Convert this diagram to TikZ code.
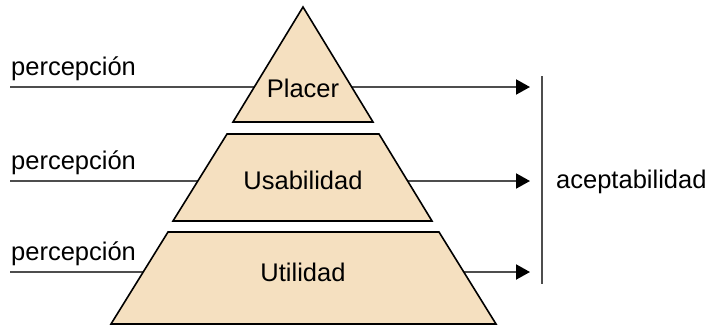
\documentclass[tikz,border=0pt]{standalone}
\usepackage{fontspec}
\setmainfont{Liberation Sans}
\usepackage{tikz}
\usetikzlibrary{arrows.meta,positioning}
\definecolor{tierfill}{HTML}{F5E0C0}
\definecolor{flowgray}{HTML}{4D4D4D}
\tikzset{
  tier/.style={draw=black,line width=1.6pt,fill=tierfill},
  flow/.style={draw=flowgray,line width=2pt,-{Triangle[length=14pt,width=15pt,color=black]}},
  bar/.style={draw=flowgray,line width=2pt},
  lbl/.style={anchor=base west,inner sep=0pt,font=\fontsize{25.5}{30}\selectfont},
  inlbl/.style={anchor=base,inner sep=0pt,font=\fontsize{25.5}{30}\selectfont}
}
\begin{document}
\begin{tikzpicture}[x=1pt,y=-1pt,>=Stealth]
\useasboundingbox (0,0) rectangle (709,327);
% arrows, behind the pyramid
\coordinate (in1) at (10,87);
\coordinate (in2) at (10,181);
\coordinate (in3) at (10,272);
\coordinate (out1) at (530,87);
\coordinate (out2) at (530,181);
\coordinate (out3) at (530,272);
\draw[flow] (in1) -- (out1);
\draw[flow] (in2) -- (out2);
\draw[flow] (in3) -- (out3);
% pyramid
\filldraw[tier] (303,7) -- (373,122) -- (233,122) -- cycle;
\filldraw[tier] (227,134) -- (379,134) -- (432,221) -- (173,221) -- cycle;
\filldraw[tier] (168,232) -- (439,232) -- (496,324) -- (111,324) -- cycle;
\node[inlbl] (placer) at (303,97) {Placer};
\node[inlbl] (usab) at (303,189) {Usabilidad};
\node[inlbl] (util) at (303,281) {Utilidad};
% left labels
\node[lbl] (perc1) at (11,75) {percepción};
\node[lbl] (perc2) at (11,169) {percepción};
\node[lbl] (perc3) at (11,260) {percepción};
% right side
\coordinate (bartop) at (542,76);
\coordinate (barbot) at (542,284);
\draw[bar] (bartop) -- (barbot);
\node[lbl] (acept) at (556,188) {aceptabilidad};
\end{tikzpicture}
\end{document}
